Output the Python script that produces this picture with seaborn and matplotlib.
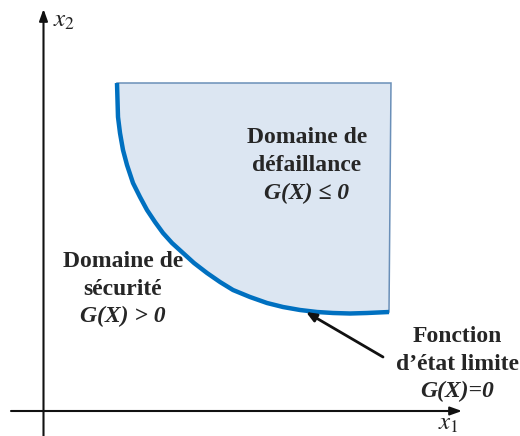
import matplotlib
matplotlib.use("Agg")
import matplotlib.pyplot as plt
import seaborn as sns

# limit-state curve (pixel-like units, y grows downward)
curve_x = [117, 117.5, 118, 120, 123, 127, 133, 140, 147, 155, 163, 172, 183,
           194, 207, 220, 233, 250, 267, 283, 300, 317, 333, 350, 367, 389]
curve_y = [83, 100, 117, 133, 150, 165, 183, 197, 210, 222, 233, 243, 253,
           263, 273, 282, 290, 297, 303, 307, 310, 312, 313, 313.5, 313, 312]
corner = (391, 83)

fail_lines = ["Domaine de", "défaillance", "G(X) ≤ 0"]
safe_lines = ["Domaine de", "sécurité", "G(X) > 0"]
lsf_lines = ["Fonction", "d’état limite", "G(X)=0"]

sns.set_style("white")
plt.rcParams["mathtext.fontset"] = "stix"
serif = ["Liberation Serif", "DejaVu Serif"]

fig = plt.figure(figsize=(5.2, 4.36), dpi=100)
ax = fig.add_axes([0, 0, 1, 1])
ax.set_xlim(0, 520)
ax.set_ylim(436, 0)
ax.axis("off")

# failure domain
poly_x = curve_x + [corner[0]]
poly_y = curve_y + [corner[1]]
ax.fill(poly_x, poly_y, facecolor="#dce6f2", edgecolor="#6a8fb8", lw=1.1, zorder=1)
sns.lineplot(x=curve_x, y=curve_y, sort=False, ax=ax, color="#0070c0",
             lw=3.2, zorder=3, solid_capstyle="butt")

# coordinate axes
ax.annotate("", xy=(462, 411), xytext=(11, 411),
            arrowprops=dict(arrowstyle="-|>,head_length=0.7,head_width=0.25",
                            color="#111111", lw=1.5, shrinkA=0, shrinkB=0))
ax.annotate("", xy=(43.5, 9), xytext=(43.5, 436),
            arrowprops=dict(arrowstyle="-|>,head_length=0.7,head_width=0.25",
                            color="#111111", lw=1.5, shrinkA=0, shrinkB=0))
ax.text(438, 430, r"$x_\mathit{1}$", fontsize=18, color="#222222", va="baseline")
ax.text(53, 27, r"$x_\mathit{2}$", fontsize=18, color="#222222", va="baseline")

def block(lines, cx, ys):
    for i, (s, y) in enumerate(zip(lines, ys)):
        ax.text(cx, y, s, ha="center", va="baseline", fontsize=17,
                fontweight="bold", family=serif,
                style="italic" if i == 2 else "normal", zorder=5)

block(fail_lines, 307, [143, 171, 199])
block(safe_lines, 123, [267, 295, 322])
block(lsf_lines, 457, [342, 370, 397])

# arrow to the limit-state curve
ax.annotate("", xy=(306, 312), xytext=(383, 357),
            arrowprops=dict(arrowstyle="-|>,head_length=0.6,head_width=0.25",
                            color="#111111", lw=2, shrinkA=0, shrinkB=0))

fig.savefig("out.png", dpi=100)
